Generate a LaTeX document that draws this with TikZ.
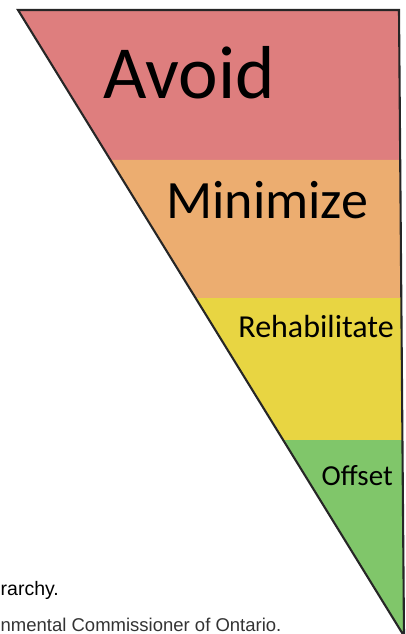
\documentclass[tikz,border=0pt]{standalone}
\usepackage{fontspec}
\setmainfont{Carlito}
\newfontfamily\legfont{Liberation Sans}
\usetikzlibrary{calc}

\definecolor{corAvoid}{RGB}{222,126,126}
\definecolor{corMin}{RGB}{236,173,112}
\definecolor{corReab}{RGB}{232,213,66}
\definecolor{corOff}{RGB}{128,198,106}

\begin{document}
\begin{tikzpicture}[
    x=1pt, y=-1pt,
    % Rótulos das faixas
    rotulo/.style={inner sep=0pt, text=black},
    % Texto da legenda (cortado)
    legenda/.style={inner sep=0pt, anchor=base west, font=\legfont\fontsize{19.5}{19.5}\selectfont},
    contorno/.style={draw=black!85, line width=2.1pt, line join=miter}
]
\useasboundingbox (0,0) rectangle (406,634);

% ---- VÉRTICES DO TRIÂNGULO ----
\coordinate (t_esq)  at (18,10);
\coordinate (t_dir)  at (399,10);
\coordinate (ponta)  at (404,636);

% limites entre as faixas (fração ao longo das arestas)
\coordinate (h1) at ($(t_esq)!0.2396!(ponta)$);
\coordinate (d1) at ($(t_dir)!0.2396!(ponta)$);
\coordinate (h2) at ($(t_esq)!0.4601!(ponta)$);
\coordinate (d2) at ($(t_dir)!0.4601!(ponta)$);
\coordinate (h3) at ($(t_esq)!0.6869!(ponta)$);
\coordinate (d3) at ($(t_dir)!0.6869!(ponta)$);

% ---- FAIXAS ----
\fill[corAvoid] (t_esq) -- (t_dir) -- (d1) -- (h1) -- cycle;
\fill[corMin]   (h1) -- (d1) -- (d2) -- (h2) -- cycle;
\fill[corReab]  (h2) -- (d2) -- (d3) -- (h3) -- cycle;
\fill[corOff]   (h3) -- (d3) -- (ponta) -- cycle;

\draw[contorno] (t_esq) -- (t_dir) -- (ponta) -- cycle;

% ---- RÓTULOS ----
\node[rotulo, anchor=base west, font=\fontsize{75}{75}\selectfont] (avoid) at (103,98) {Avoid};
\node[rotulo, anchor=base west, font=\fontsize{54}{54}\selectfont] (minimize) at (166,218) {Minimize};
\node[rotulo, anchor=base east, font=\fontsize{32}{32}\selectfont] (reab) at (394,337) {Rehabilitate};
\node[rotulo, anchor=base east, font=\fontsize{29}{29}\selectfont] (offset) at (393,485) {Offset};

% ---- LEGENDA ----
\node[legenda] (leg1) at (0.5,595) {rarchy.};
\node[legenda, text=black!80, font=\legfont\fontsize{18.5}{18.5}\selectfont] (leg2) at (0.5,631) {nmental Commissioner of Ontario.};

\end{tikzpicture}
\end{document}
